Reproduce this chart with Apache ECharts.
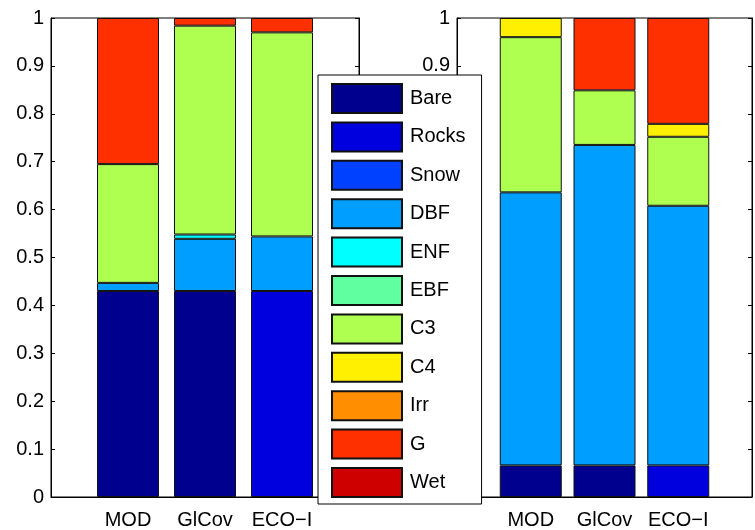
<!DOCTYPE html>
<html>
<head>
<meta charset="utf-8">
<script src="https://cdn.jsdelivr.net/npm/echarts@6/dist/echarts.min.js"></script>
<style>
  html, body { margin: 0; padding: 0; background: #fff; }
  #chart { width: 755px; height: 530px; }
</style>
</head>
<body>
<div id="chart"></div>
<script>
// land cover classes, bottom to top of each stack
let classNames = ['Bare', 'Rocks', 'Snow', 'DBF', 'ENF', 'EBF', 'C3', 'C4', 'Irr', 'G', 'Wet'];
let classColors = ['#00008F', '#0000DF', '#0040FF', '#009FFF', '#00FFFF', '#60FF9F',
    '#AFFF50', '#FFEF00', '#FF8F00', '#FF3000', '#CF0000'];
let categories = ['MOD', 'GlCov', 'ECO\u2212I'];

// fraction of each class, one array per bar (order = classNames)
let leftMOD   = [0.430, 0, 0, 0.017, 0, 0, 0.248, 0, 0, 0.305, 0];
let leftGlCov = [0.430, 0, 0, 0.109, 0.009, 0, 0.436, 0, 0, 0.016, 0];
let leftECO   = [0, 0.430, 0, 0.114, 0, 0, 0.426, 0, 0, 0.030, 0];

let rightMOD   = [0.066, 0, 0, 0.570, 0, 0, 0.324, 0.040, 0, 0, 0];
let rightGlCov = [0.066, 0, 0, 0.669, 0, 0, 0.114, 0, 0, 0.151, 0];
let rightECO   = [0, 0.066, 0, 0.542, 0, 0, 0.144, 0.027, 0, 0.221, 0];

let yTicks = [0, 0.1, 0.2, 0.3, 0.4, 0.5, 0.6, 0.7, 0.8, 0.9, 1];

let panels = [
    [leftMOD, leftGlCov, leftECO],
    [rightMOD, rightGlCov, rightECO]
];

// categories padded so that bars sit at 1,2,3 on a 0..4 axis
let axisCats = [''].concat(categories, ['']);

let font = 'Liberation Sans, Arial, Helvetica, sans-serif';
let fSize = 20;

function makeXAxis(idx) {
    return {
        type: 'category',
        gridIndex: idx,
        data: axisCats,
        boundaryGap: false,
        axisLine: { lineStyle: { color: '#000', width: 1 } },
        axisTick: { show: false },
        axisLabel: { interval: 0, color: '#000', fontSize: fSize, fontFamily: font, margin: 13 },
        splitLine: { show: false }
    };
}

function makeYAxis(idx, pos, labels) {
    return {
        type: 'value',
        gridIndex: idx,
        position: pos,
        min: 0,
        max: 1,
        interval: 0.1,
        axisLine: { show: true, lineStyle: { color: '#000', width: 1 } },
        axisTick: { show: true, inside: true, length: 4, lineStyle: { color: '#000' } },
        axisLabel: {
            show: labels, color: '#000', fontSize: fSize, fontFamily: font, margin: 7,
            formatter: function (v) {
                let t = yTicks.find(function (k) { return Math.abs(k - v) < 1e-6; });
                return t === undefined ? '' : String(t);
            }
        },
        splitLine: { show: false }
    };
}

let series = [];
for (let p = 0; p < panels.length; ++p) {
    for (let c = 0; c < classNames.length; ++c) {
        let vals = panels[p].map(function (bar) { return bar[c] > 0 ? bar[c] : '-'; });
        series.push({
            name: classNames[c],
            type: 'bar',
            stack: 'panel' + p,
            xAxisIndex: p,
            yAxisIndex: p * 2,
            barWidth: 62,
            data: ['-'].concat(vals, ['-']),
            itemStyle: { color: classColors[c], borderColor: '#111', borderWidth: 1 },
            emphasis: { disabled: true },
            animation: false
        });
    }
}

let Chart = echarts.init(document.getElementById('chart'));
let option = {
    animation: false,
    grid: [
        { left: 51, top: 18, width: 308, height: 482, show: true, borderColor: '#000', borderWidth: 1, containLabel: false },
        { left: 457, top: 18, width: 308, height: 482, show: true, borderColor: '#000', borderWidth: 1, containLabel: false }
    ],
    xAxis: [makeXAxis(0), makeXAxis(1)],
    yAxis: [
        makeYAxis(0, 'left', true),
        makeYAxis(0, 'right', false),
        makeYAxis(1, 'left', true),
        makeYAxis(1, 'right', false)
    ],
    legend: {
        data: classNames,
        orient: 'vertical',
        left: 318,
        top: 75,
        itemWidth: 70,
        itemHeight: 29,
        itemGap: 7.4,
        padding: [8, 16, 6, 13],
        backgroundColor: '#fff',
        borderColor: '#000',
        borderWidth: 1,
        icon: 'rect',
        selectedMode: false,
        z: 10,
        textStyle: { color: '#000', fontSize: fSize, fontFamily: font, padding: [0, 0, 0, 3] }
    },
    series: series
};
Chart.setOption(option);
</script>
</body>
</html>
